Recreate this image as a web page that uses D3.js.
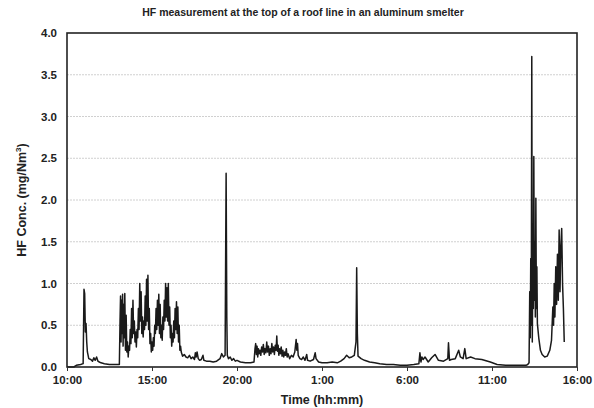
<!DOCTYPE html>
<html>
<head>
<meta charset="utf-8">
<script src="https://cdn.jsdelivr.net/npm/d3@7"></script>
<style>
  body { margin: 0; background: #fff; }
  svg text { font-family: "Liberation Sans", Arial, sans-serif; fill: #222; }
</style>
</head>
<body>
<svg id="chart" width="594" height="408"></svg>
<script>
// hours elapsed since 10:00 on day one
const hours = [
  0, 0.4, 0.55, 0.8, 0.95, 1.0, 1.04, 1.08, 1.12, 1.16, 1.2, 1.28, 1.4, 1.5, 1.58, 1.66, 1.74, 1.82, 1.9, 2.0, 2.2, 2.5, 2.8, 3.08,
  3.12, 3.15, 3.18, 3.21, 3.24, 3.27, 3.30, 3.33, 3.36, 3.40, 3.44, 3.48, 3.52, 3.56, 3.60, 3.64, 3.68, 3.72, 3.76, 3.80, 3.84, 3.88, 3.92, 3.96,
  4.00, 4.04, 4.08, 4.12, 4.16, 4.20, 4.24, 4.28, 4.32, 4.36, 4.40, 4.44, 4.48, 4.52, 4.56, 4.60, 4.64, 4.68, 4.72, 4.76, 4.80, 4.84, 4.88, 4.92, 4.96,
  5.00, 5.04, 5.08, 5.12, 5.16, 5.20, 5.24, 5.28, 5.32, 5.36, 5.40, 5.44, 5.48, 5.52, 5.56, 5.60, 5.64, 5.68, 5.72, 5.76, 5.80, 5.84, 5.88, 5.92, 5.96,
  6.00, 6.04, 6.08, 6.12, 6.16, 6.20, 6.24, 6.28, 6.32, 6.36, 6.40, 6.44, 6.48, 6.52, 6.56, 6.60, 6.64, 6.68,
  6.72, 6.8, 6.9, 7.0, 7.1, 7.2, 7.3, 7.4, 7.5, 7.55, 7.6, 7.65, 7.72, 7.8, 7.9, 8.0, 8.05, 8.2, 8.4, 8.6, 8.8, 9.0, 9.1, 9.2, 9.3,
  9.36, 9.40, 9.43, 9.5, 9.6, 9.7, 9.8, 9.9, 10.0, 10.2, 10.5, 10.8, 11.0,
  11.06, 11.1, 11.14, 11.18, 11.22, 11.26, 11.3, 11.35, 11.4, 11.45, 11.5, 11.55, 11.6, 11.65, 11.7, 11.75, 11.8, 11.85, 11.9, 11.95,
  12.0, 12.05, 12.1, 12.15, 12.2, 12.25, 12.3, 12.34, 12.38, 12.42, 12.46, 12.5, 12.55, 12.6, 12.65, 12.7, 12.75, 12.8, 12.85, 12.9, 12.95,
  13.0, 13.1, 13.2, 13.3, 13.4, 13.48, 13.52, 13.56, 13.6, 13.7, 13.8, 13.9, 14.0, 14.1, 14.15, 14.3, 14.5, 14.6, 14.65, 14.8,
  15.0, 15.3, 15.6, 15.9, 16.1, 16.3, 16.45, 16.6, 16.75, 16.9, 17.0, 17.04, 17.08, 17.12, 17.3, 17.5, 17.8,
  18.1, 18.4, 18.8, 19.2, 19.6, 20.0, 20.4, 20.7, 20.76, 20.82, 20.88, 20.95, 21.06, 21.25, 21.45, 21.65, 21.85,
  22.15, 22.4, 22.44, 22.5, 22.6, 22.84, 23.04, 23.14, 23.3, 23.4, 23.48, 23.74, 24.0, 24.4, 24.9, 25.3, 25.8, 26.4, 27.0,
  27.10, 27.18, 27.22, 27.25, 27.28, 27.31, 27.34, 27.37, 27.40, 27.43, 27.46, 27.49, 27.52, 27.55, 27.58, 27.61, 27.64, 27.67,
  27.75, 27.85, 27.95, 28.1, 28.25, 28.4, 28.5, 28.58, 28.62, 28.66, 28.7, 28.75, 28.8, 28.85, 28.9, 28.95, 29.0, 29.05, 29.1, 29.15, 29.2, 29.25
];

// HF concentration, mg/Nm3
const conc = [
  0.00, 0.00, 0.02, 0.03, 0.04, 0.93, 0.88, 0.42, 0.52, 0.30, 0.18, 0.10, 0.09, 0.07, 0.11, 0.08, 0.12, 0.07, 0.06, 0.05, 0.04, 0.03, 0.03, 0.03,
  0.55, 0.85, 0.30, 0.80, 0.40, 0.87, 0.25, 0.75, 0.35, 0.88, 0.20, 0.62, 0.18, 0.30, 0.12, 0.25, 0.20, 0.45, 0.28, 0.70, 0.35, 0.80, 0.40, 0.55,
  0.30, 0.42, 0.24, 0.45, 0.35, 0.70, 0.45, 1.00, 0.55, 0.90, 0.40, 0.60, 0.36, 0.55, 0.45, 0.85, 0.50, 1.05, 0.55, 1.10, 0.45, 0.70, 0.28, 0.40, 0.18,
  0.30, 0.20, 0.35, 0.25, 0.50, 0.40, 0.70, 0.45, 0.80, 0.50, 0.87, 0.40, 0.75, 0.35, 0.50, 0.32, 0.60, 0.45, 0.80, 0.55, 1.00, 0.60, 0.95, 0.55, 1.00,
  0.50, 0.72, 0.35, 0.50, 0.25, 0.40, 0.30, 0.55, 0.35, 0.70, 0.45, 0.78, 0.40, 0.72, 0.30, 0.50, 0.20, 0.25,
  0.18, 0.13, 0.15, 0.12, 0.11, 0.14, 0.10, 0.12, 0.09, 0.17, 0.12, 0.18, 0.10, 0.08, 0.09, 0.14, 0.08, 0.07, 0.07, 0.06, 0.07, 0.10, 0.16, 0.12, 0.14,
  2.32, 0.60, 0.14, 0.10, 0.12, 0.08, 0.10, 0.07, 0.08, 0.06, 0.05, 0.05, 0.06,
  0.22, 0.28, 0.15, 0.25, 0.12, 0.22, 0.16, 0.20, 0.14, 0.24, 0.18, 0.27, 0.15, 0.22, 0.17, 0.30, 0.18, 0.25, 0.14, 0.22,
  0.16, 0.28, 0.18, 0.24, 0.15, 0.26, 0.20, 0.37, 0.19, 0.26, 0.14, 0.22, 0.16, 0.24, 0.13, 0.20, 0.12, 0.18, 0.14, 0.22, 0.12,
  0.16, 0.10, 0.14, 0.12, 0.18, 0.33, 0.20, 0.28, 0.14, 0.10, 0.09, 0.12, 0.08, 0.15, 0.08, 0.07, 0.09, 0.17, 0.10, 0.06,
  0.05, 0.05, 0.06, 0.05, 0.07, 0.10, 0.14, 0.11, 0.12, 0.14, 0.30, 1.19, 0.40, 0.13, 0.10, 0.08, 0.06,
  0.05, 0.04, 0.03, 0.03, 0.02, 0.02, 0.03, 0.04, 0.17, 0.06, 0.12, 0.09, 0.12, 0.06, 0.11, 0.15, 0.08,
  0.07, 0.10, 0.29, 0.08, 0.09, 0.10, 0.20, 0.12, 0.10, 0.22, 0.10, 0.12, 0.10, 0.09, 0.06, 0.03, 0.02, 0.02, 0.02,
  0.03, 0.05, 0.90, 0.35, 1.30, 0.50, 3.72, 0.30, 1.20, 0.70, 2.52, 0.80, 1.50, 0.60, 2.02, 0.70, 1.20, 0.52,
  0.35, 0.20, 0.15, 0.12, 0.13, 0.20, 0.32, 0.72, 0.50, 1.00, 0.60, 1.20, 0.75, 1.35, 0.80, 1.64, 0.90, 1.45, 1.66, 1.00, 0.70, 0.30
];

const xTickHours = [0, 5, 10, 15, 20, 25, 30];
const xTickLabels = ["10:00", "15:00", "20:00", "1:00", "6:00", "11:00", "16:00"];
const yTicks = [0, 0.5, 1, 1.5, 2, 2.5, 3, 3.5, 4];

const svg = d3.select("#chart");
const plotLeft = 67, plotRight = 577, plotTop = 33, plotBottom = 367;

const x = d3.scaleLinear().domain([0, 30]).range([plotLeft, plotRight]);
const y = d3.scaleLinear().domain([0, 4]).range([plotBottom, plotTop]);

// gridlines
svg.append("g")
  .selectAll("line")
  .data(yTicks.slice(1, -1))
  .enter()
  .append("line")
    .attr("x1", plotLeft)
    .attr("x2", plotRight)
    .attr("y1", d => y(d))
    .attr("y2", d => y(d))
    .attr("stroke", "#c4c4c4")
    .attr("stroke-width", 0.8)
    .attr("stroke-dasharray", "2,1");

// the series
const points = hours.map((h, i) => [h, conc[i]]);
svg.append("path")
  .datum(points)
  .attr("fill", "none")
  .attr("stroke", "#1a1a1a")
  .attr("stroke-width", 1.5)
  .attr("stroke-linejoin", "round")
  .attr("d", d3.line().x(d => x(d[0])).y(d => y(d[1])));

// frame
svg.append("rect")
  .attr("x", plotLeft)
  .attr("y", plotTop)
  .attr("width", plotRight - plotLeft)
  .attr("height", plotBottom - plotTop)
  .attr("fill", "none")
  .attr("stroke", "#222")
  .attr("stroke-width", 1.6);

// x axis
const xAxis = svg.append("g")
  .attr("transform", `translate(0, ${plotBottom})`)
  .call(d3.axisBottom(x).tickValues(xTickHours)
    .tickFormat((d, i) => xTickLabels[i]).tickSize(4).tickPadding(5))
  .call(g => g.select(".domain").remove());
xAxis.selectAll("line").attr("stroke", "#333");
xAxis.selectAll("text")
  .attr("font-size", 11.5)
  .attr("font-weight", "bold")
  .attr("font-family", "Liberation Sans, Arial, sans-serif")
  .attr("fill", "#333");

// y axis
const yAxis = svg.append("g")
  .attr("transform", `translate(${plotLeft}, 0)`)
  .call(d3.axisLeft(y).tickValues(yTicks).tickFormat(d3.format(".1f")).tickSize(0).tickPadding(10))
  .call(g => g.select(".domain").remove());
yAxis.selectAll("text")
  .attr("font-size", 11.5)
  .attr("font-weight", "bold")
  .attr("font-family", "Liberation Sans, Arial, sans-serif")
  .attr("fill", "#333");

// titles
svg.append("text")
  .attr("x", 303)
  .attr("y", 16)
  .attr("text-anchor", "middle")
  .attr("font-size", 10.5)
  .attr("font-weight", "bold")
  .text("HF measurement at the top of a roof line in an aluminum smelter");

svg.append("text")
  .attr("x", 322)
  .attr("y", 404)
  .attr("text-anchor", "middle")
  .attr("font-size", 12.5)
  .attr("font-weight", "bold")
  .text("Time (hh:mm)");

const yLabel = svg.append("text")
  .attr("transform", "rotate(-90)")
  .attr("x", -200)
  .attr("y", 26)
  .attr("text-anchor", "middle")
  .attr("font-size", 12.5)
  .attr("font-weight", "bold");
yLabel.append("tspan").text("HF Conc. (mg/Nm");
yLabel.append("tspan").attr("font-size", 8).attr("dy", -5).text("3");
yLabel.append("tspan").attr("dy", 5).text(")");
</script>
</body>
</html>
